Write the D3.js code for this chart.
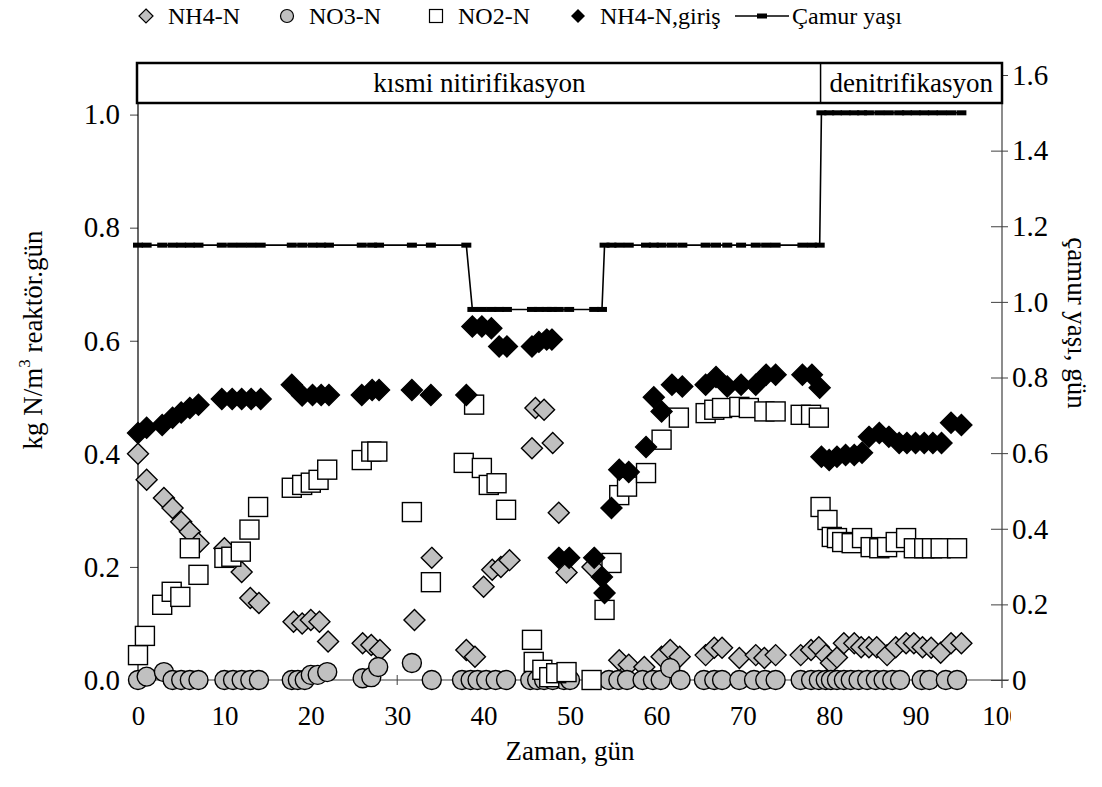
<!DOCTYPE html>
<html>
<head>
<meta charset="utf-8">
<script src="https://cdn.jsdelivr.net/npm/d3@7/dist/d3.min.js"></script>
<style>
	body { margin: 0; background: #fff; }
</style>
</head>
<body>
<div id="chart"></div>
<script>
	'use strict';

	////////// DATA //////////
	// NH4-N (gri karo)
	const nh4Gun = [0, 1, 3, 4, 5, 6, 7, 10, 12, 13, 14, 18, 19, 20, 21, 22, 26, 27, 28, 32, 34,
		38, 39, 40, 41, 42, 43, 45.6, 46, 47, 48, 48.7, 49.6, 52.6, 55.7, 56.8, 58.6, 60.6, 61.6, 62.7,
		65.7, 66.7, 67.6, 69.6, 71.5, 72.5, 73.8, 76.7, 77.9, 78.8, 79.6, 80.2, 80.9, 81.7, 82.9, 83.7,
		84.6, 85.5, 86.7, 87.7, 88.9, 89.8, 90.8, 91.8, 92.9, 94.1, 95.3];
	const nh4 = [0.40, 0.354, 0.322, 0.304, 0.28, 0.262, 0.242, 0.233, 0.191, 0.145, 0.136, 0.103, 0.100, 0.106, 0.103, 0.068, 0.065, 0.062, 0.053, 0.106, 0.216,
		0.053, 0.041, 0.165, 0.195, 0.200, 0.212, 0.41, 0.481, 0.478, 0.419, 0.296, 0.19, 0.2, 0.035, 0.027, 0.023, 0.041, 0.053, 0.041,
		0.044, 0.057, 0.057, 0.039, 0.044, 0.039, 0.044, 0.044, 0.053, 0.058, 0.044, 0.030, 0.040, 0.065, 0.065, 0.058,
		0.058, 0.058, 0.044, 0.058, 0.065, 0.065, 0.058, 0.057, 0.048, 0.065, 0.065];

	// NO3-N (gri daire)
	const no3Gun = [0, 1, 3, 4, 5, 6, 7, 10, 11, 12, 13, 14, 17.8, 18.5, 19.3, 20, 20.8, 21.9, 26, 27, 27.8, 31.7, 34,
		37.5, 38.5, 39.3, 40.3, 41.4, 42.6, 45.4, 46.2, 47, 48, 49.3, 50, 54.5, 55.6, 56.6, 58.4, 59.6, 60.5, 61.6, 62.8,
		65.5, 66.7, 67.6, 69.6, 71.3, 72.6, 73.8, 76.7, 77.9, 78.8, 79.6, 80.2, 80.9, 81.7, 82.5, 83.4, 84.4, 85.4, 86.3, 87.3, 88.2,
		90.7, 91.6, 93.5, 94.8];
	const no3 = [0, 0.006, 0.014, 0, 0, 0, 0, 0, 0, 0, 0, 0, 0, 0, 0, 0.009, 0.009, 0.014, 0.003, 0.005, 0.023, 0.03, 0,
		0, 0, 0, 0, 0, 0, 0, 0, 0, 0, 0, 0, 0, 0, 0, 0, 0, 0, 0.021, 0,
		0, 0, 0, 0, 0, 0, 0, 0, 0, 0, 0, 0, 0, 0, 0, 0, 0, 0, 0, 0, 0,
		0, 0, 0, 0];

	// NO2-N (beyaz kare)
	const no2Gun = [0, 0.8, 2.8, 3.9, 4.9, 6, 7, 10, 10.8, 11.9, 12.9, 13.9, 17.8, 19, 20, 20.9, 21.9, 25.9, 27, 27.7, 31.7, 33.9,
		37.7, 38.9, 39.8, 40.6, 41.5, 42.6, 45.6, 45.8, 46.8, 47.6, 48.4, 49.6, 52.5, 54, 54.8, 55.7, 56.6, 58.8, 60.6, 62.6,
		65.7, 66.7, 67.6, 69.6, 70.7, 72.5, 73.8, 76.7, 77.9, 78.8, 79, 79.8, 80.3, 80.9, 81.5, 82.6, 83.8, 84.8, 85.8, 86.7,
		87.7, 88.9, 89.8, 91, 91.9, 92.9, 94.8];
	const no2 = [0.044, 0.078, 0.133, 0.156, 0.147, 0.233, 0.186, 0.216, 0.218, 0.227, 0.266, 0.306, 0.340, 0.345, 0.349, 0.354, 0.372, 0.389, 0.404, 0.404, 0.297, 0.173,
		0.384, 0.487, 0.375, 0.345, 0.348, 0.301, 0.071, 0.032, 0.018, 0.005, 0.012, 0.014, 0.0, 0.124, 0.207, 0.327, 0.342, 0.366, 0.425, 0.464,
		0.472, 0.478, 0.481, 0.483, 0.481, 0.475, 0.475, 0.469, 0.469, 0.464, 0.306, 0.283, 0.253, 0.251, 0.244, 0.242, 0.251, 0.235, 0.233, 0.235,
		0.244, 0.251, 0.233, 0.233, 0.233, 0.233, 0.233];

	// NH4-N,giriş (siyah karo) ve çamur yaşı aynı günlerde
	const girisGun = [0, 1, 2.8, 4, 5, 6, 7, 9.7, 10.9, 12, 13.1, 14.2, 17.8, 19, 20.2, 21.2, 22.1, 25.9, 27.1, 27.9, 31.7, 33.9,
		38, 38.7, 39.8, 40.9, 41.8, 42.7, 45.6, 46.4, 47.3, 47.9, 48.7, 49.9, 52.8, 53.7, 54, 54.8, 55.7, 56.8, 58.8, 59.7, 60.6, 61.8, 63,
		65.7, 66.9, 68.2, 69.8, 71.5, 72.7, 73.8, 76.9, 78, 78.9, 79.1, 80, 80.9, 81.9, 82.9, 83.8, 84.6, 85.8, 86.9, 88.1, 89, 90, 91, 92, 93, 94.1, 95.3];
	const giris = [0.437, 0.446, 0.451, 0.464, 0.473, 0.481, 0.487, 0.497, 0.497, 0.497, 0.497, 0.497, 0.522, 0.503, 0.504, 0.504, 0.504, 0.504, 0.513, 0.513, 0.513, 0.504,
		0.504, 0.625, 0.625, 0.622, 0.59, 0.59, 0.59, 0.598, 0.602, 0.602, 0.216, 0.216, 0.216, 0.182, 0.154, 0.304, 0.372, 0.368, 0.412, 0.5, 0.475, 0.522, 0.519,
		0.522, 0.536, 0.519, 0.522, 0.522, 0.54, 0.54, 0.54, 0.54, 0.517, 0.395, 0.389, 0.395, 0.398, 0.398, 0.402, 0.43, 0.437, 0.43, 0.419, 0.419, 0.419, 0.419, 0.419, 0.419, 0.455, 0.451];
	const camur = [1.15, 1.15, 1.15, 1.15, 1.15, 1.15, 1.15, 1.15, 1.15, 1.15, 1.15, 1.15, 1.15, 1.15, 1.15, 1.15, 1.15, 1.15, 1.15, 1.15, 1.15, 1.15,
		1.15, 0.98, 0.98, 0.98, 0.98, 0.98, 0.98, 0.98, 0.98, 0.98, 0.98, 0.98, 0.98, 0.98, 1.15, 1.15, 1.15, 1.15, 1.15, 1.15, 1.15, 1.15, 1.15,
		1.15, 1.15, 1.15, 1.15, 1.15, 1.15, 1.15, 1.15, 1.15, 1.15, 1.5, 1.5, 1.5, 1.5, 1.5, 1.5, 1.5, 1.5, 1.5, 1.5, 1.5, 1.5, 1.5, 1.5, 1.5, 1.5, 1.5];

	// tick labels
	const xTicks = [0, 10, 20, 30, 40, 50, 60, 70, 80, 90, 100];
	const yLeftTicks = [0, 0.2, 0.4, 0.6, 0.8, 1.0];
	const yRightTicks = [0, 0.2, 0.4, 0.6, 0.8, 1.0, 1.2, 1.4, 1.6];
	const phases = ['kısmi nitirifikasyon', 'denitrifikasyon'];
	const phaseBounds = [0, 79, 100];

	////////// Hard Coded Defs //////////
	const width = 1102, height = 787;
	const plotLeft = 138, plotRight = 1002, plotTop = 75, plotBottom = 680;
	const font = "'Liberation Serif', 'Times New Roman', serif";
	const gray = '#c0c0c0';
	const axisColor = '#404040';
	const diamond = r => `M0,${-r}L${r},0L0,${r}L${-r},0Z`;
	const zip = (xs, ys) => xs.map((d, i) => [d, ys[i]]);

	const svg = d3.select('#chart').append('svg')
		.attr('width', width)
		.attr('height', height)
		.attr('font-family', font)
		.style('background', '#fff');

	const x = d3.scaleLinear().domain([0, 100]).range([plotLeft, plotRight]);
	const yL = d3.scaleLinear().domain([0, 1.07]).range([plotBottom, plotTop]);
	const yR = d3.scaleLinear().domain([0, 1.6]).range([plotBottom, plotTop]);

	// ********************************************* AXES ******************************************************* //
	const xAxis = svg.append('g')
		.attr('transform', `translate(0,${plotBottom})`)
		.call(d3.axisBottom(x).tickValues(xTicks).tickSize(0).tickPadding(26).tickFormat(d3.format('d')))
		.attr('font-family', font);
	xAxis.select('.domain').remove();
	xAxis.selectAll('text').style('font-size', '27px').attr('fill', '#000');
	svg.append('clipPath').attr('id', 'clipX').append('rect').attr('x', 0).attr('y', 0).attr('width', 1011).attr('height', height);
	xAxis.attr('clip-path', 'url(#clipX)');
	svg.append('g').selectAll('line').data(xTicks.slice(1, -1)).join('line')
		.attr('x1', d => x(d)).attr('x2', d => x(d))
		.attr('y1', plotBottom - 5).attr('y2', plotBottom + 5)
		.attr('stroke', axisColor).attr('stroke-width', 1);
	svg.append('line')
		.attr('x1', plotLeft).attr('x2', plotRight + 7)
		.attr('y1', plotBottom).attr('y2', plotBottom)
		.attr('stroke', axisColor).attr('stroke-width', 1.2);

	const yAxisL = svg.append('g')
		.attr('transform', `translate(${plotLeft},0)`)
		.call(d3.axisLeft(yL).tickValues(yLeftTicks).tickSize(8).tickPadding(10).tickFormat(d3.format('.1f')))
		.attr('font-family', font);
	yAxisL.select('.domain').remove();
	yAxisL.selectAll('line').attr('stroke', axisColor);
	yAxisL.selectAll('text').style('font-size', '29px').attr('fill', '#000');
	svg.append('line')
		.attr('x1', plotLeft).attr('x2', plotLeft)
		.attr('y1', 103).attr('y2', plotBottom)
		.attr('stroke', '#000').attr('stroke-width', 1.2);

	const yAxisR = svg.append('g')
		.attr('transform', `translate(${plotRight},0)`)
		.call(d3.axisRight(yR).tickValues(yRightTicks).tickSize(6).tickPadding(4).tickFormat(d => d === 0 ? '0' : d3.format('.1f')(d)))
		.attr('font-family', font);
	yAxisR.select('.domain').remove();
	yAxisR.selectAll('line').attr('x1', -11).attr('stroke', axisColor);
	yAxisR.selectAll('text').style('font-size', '29px').attr('fill', '#000');
	svg.append('line')
		.attr('x1', plotRight).attr('x2', plotRight)
		.attr('y1', plotTop).attr('y2', plotBottom + 8)
		.attr('stroke', axisColor).attr('stroke-width', 1.2);

	// axis titles
	svg.append('text')
		.attr('x', 570).attr('y', 760)
		.attr('text-anchor', 'middle')
		.style('font-size', '27px')
		.text('Zaman, gün');

	const yTitle = svg.append('text')
		.attr('transform', 'translate(42,340) rotate(-90)')
		.attr('text-anchor', 'middle')
		.style('font-size', '27px');
	yTitle.append('tspan').text('kg N/m');
	yTitle.append('tspan').attr('dy', -12).style('font-size', '17px').text('3');
	yTitle.append('tspan').attr('dy', 12).text(' reaktör.gün');

	svg.append('text')
		.attr('transform', 'translate(1068,323) rotate(90)')
		.attr('text-anchor', 'middle')
		.style('font-size', '27px')
		.text('çamur yaşı, gün');

	// ********************************************* SERIES ******************************************************* //
	const marks = svg.append('g').attr('stroke', '#000').attr('stroke-width', 1.4);

	marks.append('g').selectAll('path').data(zip(nh4Gun, nh4)).join('path')
		.attr('d', diamond(10.5))
		.attr('transform', d => `translate(${x(d[0])},${yL(d[1])})`)
		.attr('fill', gray);

	marks.append('g').selectAll('circle').data(zip(no3Gun, no3)).join('circle')
		.attr('cx', d => x(d[0])).attr('cy', d => yL(d[1]))
		.attr('r', 9.5)
		.attr('fill', gray);

	marks.append('g').selectAll('rect').data(zip(no2Gun, no2)).join('rect')
		.attr('x', d => x(d[0]) - 9.5).attr('y', d => yL(d[1]) - 9.5)
		.attr('width', 19).attr('height', 19)
		.attr('fill', '#fff');

	marks.append('g').selectAll('path').data(zip(girisGun, giris)).join('path')
		.attr('d', diamond(10.5))
		.attr('transform', d => `translate(${x(d[0])},${yL(d[1])})`)
		.attr('fill', '#000');

	// çamur yaşı (sağ eksen)
	const camurData = zip(girisGun, camur);
	svg.append('path')
		.datum(camurData)
		.attr('d', d3.line().x(d => x(d[0])).y(d => yR(d[1])))
		.attr('fill', 'none')
		.attr('stroke', '#000')
		.attr('stroke-width', 1.6);
	svg.append('g').selectAll('rect').data(camurData).join('rect')
		.attr('x', d => x(d[0]) - 5).attr('y', d => yR(d[1]) - 2.5)
		.attr('width', 10).attr('height', 5)
		.attr('fill', '#000');

	// ********************************************* PHASE BOX ******************************************************* //
	const box = svg.append('g');
	box.append('rect')
		.attr('x', plotLeft - 1).attr('y', 63)
		.attr('width', plotRight - plotLeft + 1).attr('height', 40)
		.attr('fill', '#fff').attr('stroke', '#000').attr('stroke-width', 2.5);
	box.append('line')
		.attr('x1', x(phaseBounds[1])).attr('x2', x(phaseBounds[1]))
		.attr('y1', 63).attr('y2', 103)
		.attr('stroke', '#000').attr('stroke-width', 1.5);
	box.selectAll('text').data(phases).join('text')
		.attr('x', (d, i) => (x(phaseBounds[i]) + x(phaseBounds[i + 1])) / 2)
		.attr('y', 92)
		.attr('text-anchor', 'middle')
		.style('font-size', '27px')
		.text(d => d);

	// ********************************************* LEGEND ******************************************************* //
	const legend = svg.append('g').attr('transform', 'translate(0,16)').style('font-size', '24px');
	const legendItems = [
		{ label: 'NH4-N', x: 146, draw: g => g.append('path').attr('d', diamond(7)).attr('fill', gray).attr('stroke', '#000').attr('stroke-width', 1.2) },
		{ label: 'NO3-N', x: 287, draw: g => g.append('circle').attr('r', 6.5).attr('fill', gray).attr('stroke', '#000').attr('stroke-width', 1.2) },
		{ label: 'NO2-N', x: 436, draw: g => g.append('rect').attr('x', -6.5).attr('y', -6.5).attr('width', 13).attr('height', 13).attr('fill', '#fff').attr('stroke', '#000').attr('stroke-width', 1.2) },
		{ label: 'NH4-N,giriş', x: 578, draw: g => g.append('path').attr('d', diamond(7)).attr('fill', '#000') },
		{ label: 'Çamur yaşı', x: 762, draw: g => {
			g.append('line').attr('x1', -27).attr('x2', 27).attr('stroke', '#000').attr('stroke-width', 1.6);
			g.append('rect').attr('x', -5).attr('y', -2.5).attr('width', 10).attr('height', 5).attr('fill', '#000');
		} }
	];
	legendItems.forEach(item => {
		const g = legend.append('g').attr('transform', `translate(${item.x},0)`);
		item.draw(g);
		g.append('text')
			.attr('x', item.label === 'Çamur yaşı' ? 30 : 22)
			.attr('y', 8)
			.text(item.label);
	});
</script>
</body>
</html>
